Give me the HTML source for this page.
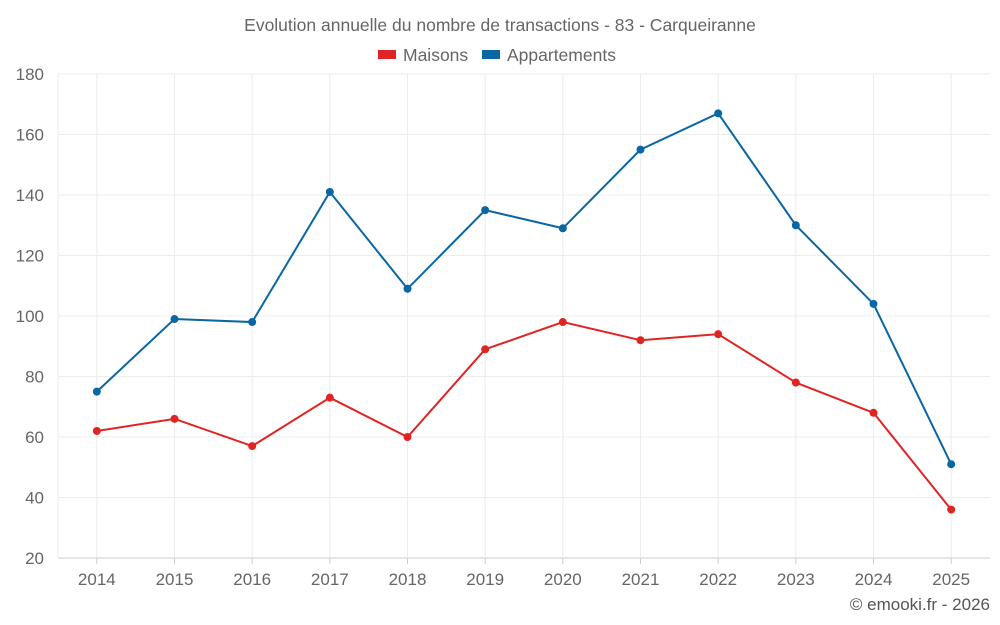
<!DOCTYPE html>
<html><head><meta charset="utf-8">
<style>
html,body{margin:0;padding:0;background:#fff;}
svg{display:block;font-family:"Liberation Sans",sans-serif;}
</style></head>
<body>
<svg id="chart" width="1000" height="625" viewBox="0 0 1000 625">
<text x="500" y="31" text-anchor="middle" font-size="17.5" fill="#666">Evolution annuelle du nombre de transactions - 83 - Carqueiranne</text>
<g>
<g><rect x="378" y="50" width="18" height="9" fill="#e02424"/><text x="403" y="61" font-size="17.5" fill="#666">Maisons</text></g>
<g><rect x="482" y="50" width="18" height="9" fill="#0a67a3"/><text x="507" y="61" font-size="17.5" fill="#666">Appartements</text></g>
</g>
<g id="grid"></g>
<g id="axes"></g>
<g id="series"></g>
<text x="990" y="610" text-anchor="end" font-size="17" fill="#555">© emooki.fr - 2026</text>
</svg>
<script>
const years=["2014","2015","2016","2017","2018","2019","2020","2021","2022","2023","2024","2025"];
const maisons=[62,66,57,73,60,89,98,92,94,78,68,36];
const appartements=[75,99,98,141,109,135,129,155,167,130,104,51];
const yTicks=[20,40,60,80,100,120,140,160,180];
const NS="http://www.w3.org/2000/svg";
const L=58,R=990,T=74,B=558,yMin=20,yMax=180;
const band=(R-L)/years.length;
const x=i=>L+band*(i+0.5);
const y=v=>B-(v-yMin)/(yMax-yMin)*(B-T);
function mk(tag,attrs,parent){const e=document.createElementNS(NS,tag);for(const k in attrs)e.setAttribute(k,attrs[k]);parent.appendChild(e);return e;}
const grid=document.getElementById('grid'),axes=document.getElementById('axes'),series=document.getElementById('series');
yTicks.forEach(t=>{
 const l=mk('line',{x1:L,x2:R,y1:y(t),y2:y(t),stroke:t===yMin?'#ccc':'#ececec','stroke-width':1},grid);
 
 
 const tx=mk('text',{x:L-14,y:y(t)+6,'text-anchor':'end','font-size':17,fill:'#666'},axes);
 tx.textContent=t;
 
 
});
mk('line',{x1:L,x2:L,y1:T,y2:B,stroke:'#ececec'},grid);
years.forEach((yr,i)=>{
 const l=mk('line',{x1:x(i),x2:x(i),y1:T,y2:B,stroke:'#ececec'},grid);
 
 
 mk('line',{x1:x(i),x2:x(i),y1:B,y2:B+6,stroke:'#ccc'},axes);
 const tx=mk('text',{x:x(i),y:585,'text-anchor':'middle','font-size':17,fill:'#666'},axes);
 tx.textContent=yr;
 
 
});
function draw(vals,color,name){
 const g=mk('g',{},series);
 
 
 const p=mk('polyline',{points:vals.map((v,i)=>x(i)+','+y(v)).join(' '),fill:'none',stroke:color,'stroke-width':2},g);
 
 
 vals.forEach((v,i)=>{
  const c=mk('circle',{cx:x(i),cy:y(v),r:4,fill:color},g);
  
  
 });
}
draw(maisons,'#e02424','maisons');
draw(appartements,'#0a67a3','appartements');
</script>
</body></html>
